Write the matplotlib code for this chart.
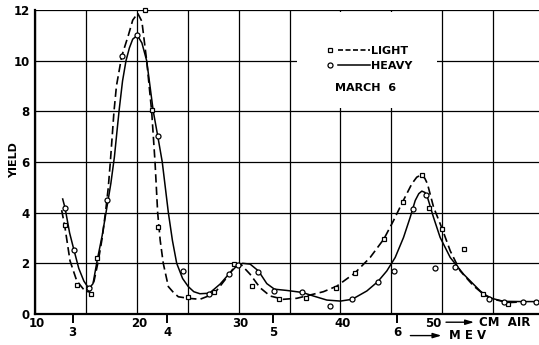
import matplotlib
matplotlib.use("Agg")
from matplotlib import pyplot as plt
from matplotlib.lines import Line2D
from matplotlib.legend_handler import HandlerTuple
from matplotlib.patches import Rectangle

# measured points (cm of air, yield)
light_x = [12.95, 14.1, 15.47, 16.1, 20.8, 21.53, 22.1, 25.07, 27.6, 29.56, 31.33,
           33.98, 36.6, 39.55, 41.4, 44.27, 46.13, 47.97, 48.7, 50.0, 52.1, 54.0, 56.5]
light_y = [3.51, 1.14, 0.80, 2.2, 12.0, 8.04, 3.45, 0.68, 0.88, 1.97, 1.10,
           0.58, 0.65, 1.02, 1.61, 2.96, 4.44, 5.47, 4.19, 3.36, 2.55, 0.80, 0.41]

heavy_x = [12.95, 13.83, 15.34, 17.1, 18.52, 20.05, 22.05, 24.57, 27.13, 29.03, 29.92,
           31.92, 33.52, 36.27, 38.96, 41.15, 43.68, 45.28, 47.15, 48.43, 49.31, 51.3,
           54.55, 56.03, 57.93, 59.2]
heavy_y = [4.19, 2.52, 1.04, 4.5, 10.18, 11.0, 7.04, 1.70, 0.80, 1.57, 1.93,
           1.66, 0.91, 0.88, 0.32, 0.58, 1.28, 1.68, 4.15, 4.70, 1.81, 1.86,
           0.58, 0.49, 0.49, 0.49]

# hand drawn curves
light_cx = [12.62, 12.95, 13.44, 14.1, 14.9, 15.34, 15.8, 16.22, 16.6, 16.95, 17.2,
            17.4, 17.76, 18.0, 18.52, 19.17, 19.6, 20.09, 20.5, 20.97, 21.46, 21.79,
            22.05, 22.3, 22.6, 23.1, 23.6, 24.08, 25.06, 26.2, 27.6, 28.84, 29.66,
            30.15, 31.13, 32.1, 33.1, 34.4, 35.72, 37.03, 38.33, 39.65, 40.5, 41.4,
            42.92, 44.27, 45.21, 46.13, 47.02, 47.5, 47.97, 48.3, 48.55, 49.15, 50.0,
            50.79, 51.77, 53.08, 54.0, 55.04, 56.5, 57.5]
light_cy = [4.1, 3.4, 2.1, 1.31, 0.91, 0.87, 1.3, 2.1, 3.0, 4.1, 5.0,
            6.0, 8.0, 9.0, 10.18, 11.0, 11.6, 11.87, 11.55, 10.0, 8.0, 6.0,
            4.0, 2.9, 2.0, 1.08, 0.85, 0.68, 0.62, 0.58, 0.8, 1.44, 1.9,
            1.99, 1.57, 1.04, 0.71, 0.58, 0.62, 0.75, 0.88, 1.1, 1.35, 1.61,
            2.23, 2.96, 3.68, 4.44, 5.14, 5.4, 5.5, 5.35, 5.14, 4.22, 3.36,
            2.49, 1.70, 1.11, 0.80, 0.58, 0.45, 0.47]

heavy_cx = [12.72, 12.95, 13.4, 13.83, 14.3, 14.8, 15.3, 15.7, 16.1, 16.6, 17.1, 17.45,
            17.8, 18.05, 18.28, 18.6, 18.94, 19.27, 19.6, 20.05, 20.5, 20.97, 21.62,
            22.05, 22.5, 23.1, 23.5, 23.92, 24.5, 25.06, 25.6, 26.2, 27.13, 28.18,
            29.03, 29.82, 30.4, 31.13, 31.95, 32.77, 33.52, 34.73, 36.27, 37.35, 38.67,
            40.0, 41.15, 42.6, 43.68, 44.56, 45.38, 46.2, 46.85, 47.35, 47.7, 48.0,
            48.3, 48.55, 49.15, 49.8, 50.79, 52.1, 53.73, 54.55, 56.03, 57.9, 59.5]
heavy_cy = [4.54, 4.19, 3.2, 2.52, 1.8, 1.3, 1.0, 1.2, 2.1, 3.1, 4.3, 5.15,
            6.2, 7.2, 8.1, 9.2, 10.0, 10.5, 10.85, 11.0, 10.7, 10.0, 8.0,
            7.04, 6.0, 4.0, 2.9, 2.0, 1.4, 1.08, 0.88, 0.8, 0.82, 1.18,
            1.57, 1.9, 2.0, 1.97, 1.7, 1.2, 0.98, 0.93, 0.85, 0.71, 0.55,
            0.51, 0.58, 0.91, 1.28, 1.70, 2.23, 3.02, 3.81, 4.48, 4.75, 4.85,
            4.8, 4.61, 3.81, 3.02, 2.23, 1.57, 0.91, 0.65, 0.5, 0.49, 0.49]

cm_ticks = [10, 20, 30, 40, 50]
mev_pos = [13.7, 23.0, 33.4, 45.6]
mev_labels = ["3", "4", "5", "6"]
yield_ticks = [0, 2, 4, 6, 8, 10, 12]

plt.rcParams['font.family'] = ['Liberation Sans Narrow', 'DejaVu Sans']
plt.rcParams['font.weight'] = 'bold'

fig = plt.figure(figsize=(5.39, 3.45), dpi=100)
ax = fig.add_axes([35 / 539, 1 - 314 / 345, 504 / 539, 304 / 345])
ax.set_xlim(10, 10 + 504 / 10.18)
ax.set_ylim(0, 12)

# grid
ax.set_axisbelow(True)
ax.set_xticks(range(10, 60, 5))
ax.set_yticks(yield_ticks)
ax.grid(True, color='black', lw=0.9)
ax.set_xticklabels([])
ax.tick_params(axis='x', length=0)
ax.tick_params(axis='y', length=0, pad=4, labelsize=8.5)
ax.set_yticklabels([str(v) for v in yield_ticks])
for s in ['top', 'right']:
    ax.spines[s].set_visible(False)
for s in ['left', 'bottom']:
    ax.spines[s].set_linewidth(1.6)

# cm air labels (the last one sits left of its line to make room for the arrow)
tr = ax.get_xaxis_transform()
for v in cm_ticks:
    off = 0.2 if v < 50 else -0.9
    ax.text(v + off, -0.03, str(v), transform=tr,
            ha='center', va='center', fontsize=8.5)

# MeV scale
sec = ax.secondary_xaxis('bottom')
sec.set_xticks(mev_pos)
sec.set_xticklabels(mev_labels)
sec.tick_params(length=6.5, width=1.4, pad=2.5, labelsize=8.5, direction='out')
sec.spines['bottom'].set_visible(False)

arrow = dict(arrowstyle='-|>,head_length=0.5,head_width=0.15', color='black', lw=1.0)
ax.annotate('', xy=(53.4, -0.027), xytext=(50.1, -0.027), xycoords=tr, arrowprops=arrow,
            annotation_clip=False)
ax.text(53.6, -0.027, 'CM  AIR', transform=tr, ha='left', va='center', fontsize=8.5)
ax.annotate('', xy=(50.2, -0.071), xytext=(46.6, -0.071), xycoords=tr, arrowprops=arrow,
            annotation_clip=False)
ax.text(50.7, -0.071, 'M E V', transform=tr, ha='left', va='center', fontsize=8.5)

fig.text(14 / 539, 1 - 160 / 345, 'YIELD', rotation=90, ha='center', va='center',
         fontsize=8)

# white legend patch hides grid
ax.add_patch(Rectangle((35.74, 8.13), 13.75, 3.8, facecolor='white', edgecolor='none',
                       zorder=1))

# curves and points
ax.plot(light_cx, light_cy, color='black', lw=1.2, ls=(0, (5, 2.5)), zorder=3)
ax.plot(heavy_cx, heavy_cy, color='black', lw=1.1, zorder=3)
ax.plot(light_x, light_y, ls='none', marker='s', ms=3.2, mfc='white', mec='black',
        mew=0.9, zorder=4, clip_on=False)
ax.plot(heavy_x, heavy_y, ls='none', marker='o', ms=3.6, mfc='white', mec='black',
        mew=0.9, zorder=4, clip_on=False)

# legend
h_light = (Line2D([], [], ls='none', marker='s', ms=3.2, mfc='white', mec='black', mew=0.9),
           Line2D([], [], color='black', lw=1.2, ls=(0, (3, 1.5))))
h_heavy = (Line2D([], [], ls='none', marker='o', ms=3.6, mfc='white', mec='black', mew=0.9),
           Line2D([], [], color='black', lw=1.1))
leg = ax.legend([h_light, h_heavy], ['LIGHT', 'HEAVY'],
                handler_map={tuple: HandlerTuple(ndivide=None, pad=-0.7)},
                handlelength=5.0, handletextpad=0.1, labelspacing=0.45,
                frameon=False, fontsize=8, loc='upper left',
                bbox_to_anchor=((304 - 35) / 504, 1 - 26 / 304))
leg.set_zorder(5)
ax.text((366 - 35) / 504, 1 - 78 / 304, 'MARCH  6', transform=ax.transAxes,
        ha='center', va='center', fontsize=8)

fig.savefig('out.png', dpi=100)
